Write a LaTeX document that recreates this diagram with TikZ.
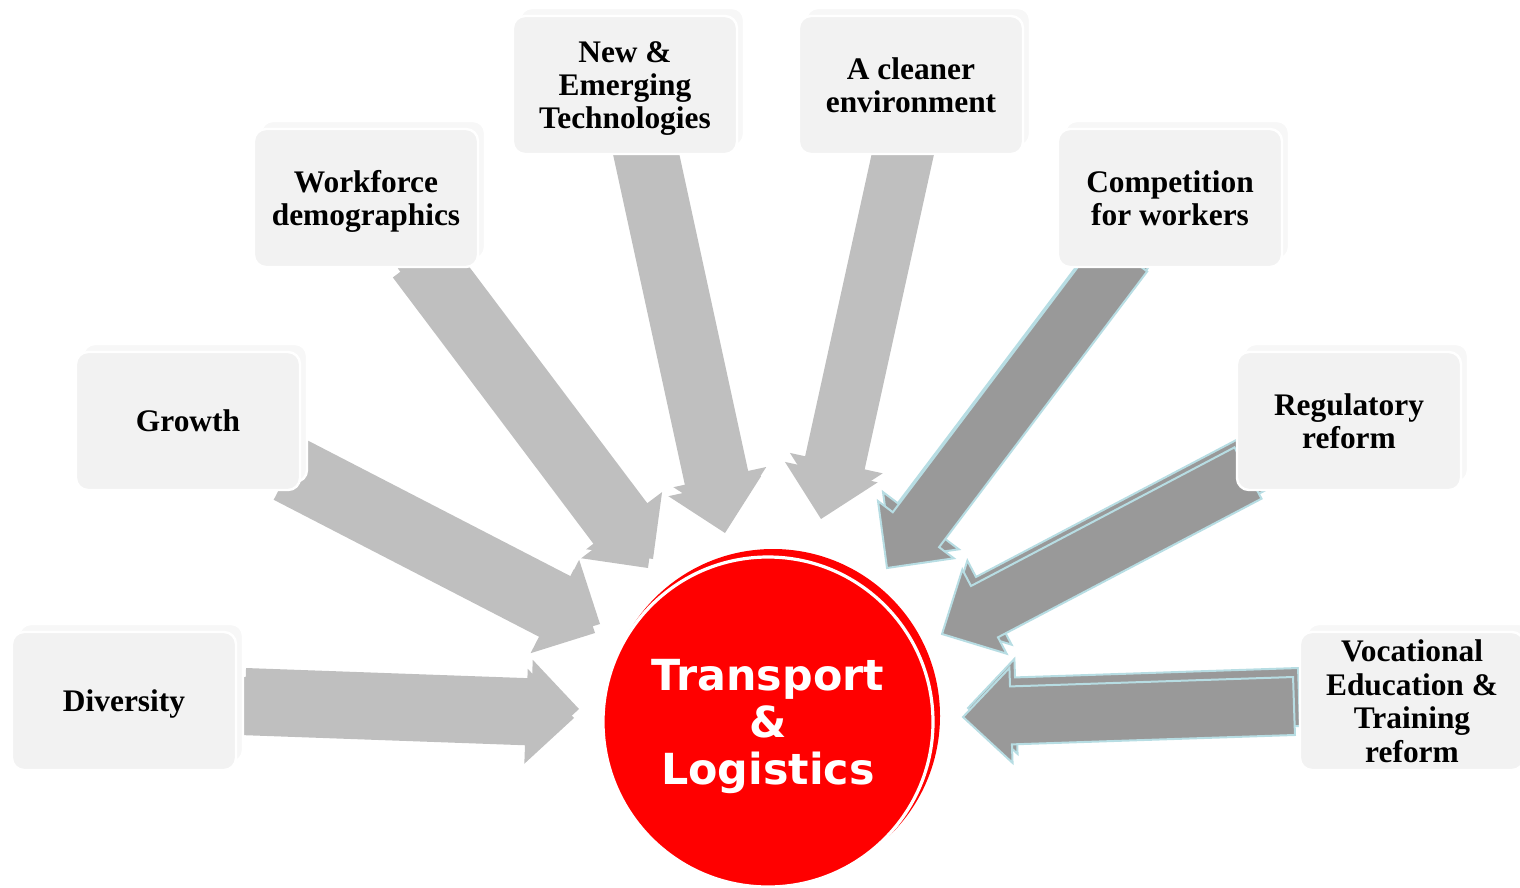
\documentclass[tikz,border=0pt]{standalone}
\usepackage{fontspec}
\setmainfont{Liberation Serif}
\newfontfamily\hubfont{DejaVu Sans}
\usetikzlibrary{calc}

\definecolor{boxgray}{HTML}{F2F2F2}
\definecolor{boxstack}{HTML}{F7F7F7}
\definecolor{arrowlight}{HTML}{BFBFBF}
\definecolor{arrowdark}{HTML}{999999}
\definecolor{arrowedge}{HTML}{B7DDE3}
\definecolor{hubred}{HTML}{FF0000}

\tikzset{
  factor/.style={rectangle, rounded corners=6pt, fill=boxgray, draw=white, line width=1.2pt,
    minimum width=112pt, minimum height=69pt, inner sep=0pt, align=center,
    font=\fontsize{15.7}{16.7}\selectfont\bfseries, text depth=0pt},
  factorstack/.style={rectangle, rounded corners=6pt, fill=boxstack, draw=white, line width=1.2pt,
    minimum width=112pt, minimum height=69pt},
  lightarrow/.style={fill=arrowlight},
  darkarrow/.style={fill=arrowdark, draw=arrowedge, line width=1pt},
}

\newcommand\blockarrow[6]{%
  \path ($(#3)!#6!(#2)$) coordinate (hb);
  \path[#1] ($(#2)!#4!90:(#3)$) -- ($(hb)!#4!90:(#3)$) -- ($(hb)!#5!90:(#3)$) -- (#3)
    -- ($(hb)!#5!-90:(#3)$) -- ($(hb)!#4!-90:(#3)$) -- ($(#2)!#4!-90:(#3)$) -- cycle;}
\newcommand\twinarrow[2]{%
  \begin{scope}[transform canvas={xshift=2.5pt,yshift=4.5pt}]
    \blockarrow{#1}{t#2}{h#2}{14.5pt}{23.75pt}{24pt}
  \end{scope}
  \blockarrow{#1}{t#2}{h#2}{14.5pt}{23.75pt}{24pt}}

\begin{document}
\begin{tikzpicture}[x=0.5pt,y=-0.5pt]
\useasboundingbox (0,0) rectangle (1520,888);

\coordinate (t1) at (240,706);  \coordinate (h1) at (574,718);
\coordinate (t2) at (287,474);  \coordinate (h2) at (595,633);
\coordinate (t3) at (416,260);  \coordinate (h3) at (648,568);
\coordinate (t4) at (640,142);  \coordinate (h4) at (725,533);
\coordinate (t5) at (904,142);  \coordinate (h5) at (821,519);
\coordinate (t6) at (1124,254); \coordinate (h6) at (887,568);
\coordinate (t7) at (1248,473); \coordinate (h7) at (942,634);
\coordinate (t8) at (1294,706); \coordinate (h8) at (963,717);

\twinarrow{lightarrow}{1}
\twinarrow{lightarrow}{2}
\twinarrow{lightarrow}{3}
\twinarrow{lightarrow}{4}
\twinarrow{lightarrow}{5}
\twinarrow{darkarrow}{6}
\twinarrow{darkarrow}{7}
\twinarrow{darkarrow}{8}

\fill[hubred] (773,716) circle[radius=83.5pt];
\node[circle, fill=hubred, draw=white, line width=1.6pt, minimum size=165pt, inner sep=0pt,
  align=center, text=white, font=\hubfont\bfseries\fontsize{21.4}{23.5}\selectfont,
  text depth=-3pt]
  (hub) at (768,722) {Transport\\\&\\Logistics};

\node[factorstack] (divs) at (131,693) {};
\node[factor] (div) at (124,701) {Diversity};
\node[factorstack] (grows) at (195,413) {};
\node[factor] (grow) at (188,421) {Growth};
\node[factorstack] (works) at (373,190) {};
\node[factor] (work) at (366,198) {Workforce\\demographics};
\node[factorstack] (techs) at (632,77) {};
\node[factor] (tech) at (625,85) {New \&\\Emerging\\Technologies};
\node[factorstack] (cleans) at (918,77) {};
\node[factor] (clean) at (911,85) {A cleaner\\environment};
\node[factorstack] (comps) at (1177,190) {};
\node[factor] (comp) at (1170,198) {Competition\\for workers};
\node[factorstack] (regs) at (1356,413) {};
\node[factor] (reg) at (1349,421) {Regulatory\\reform};
\node[factorstack] (vocs) at (1419,693) {};
\node[factor] (voc) at (1412,701) {Vocational\\Education \&\\Training\\reform};
\end{tikzpicture}
\end{document}
